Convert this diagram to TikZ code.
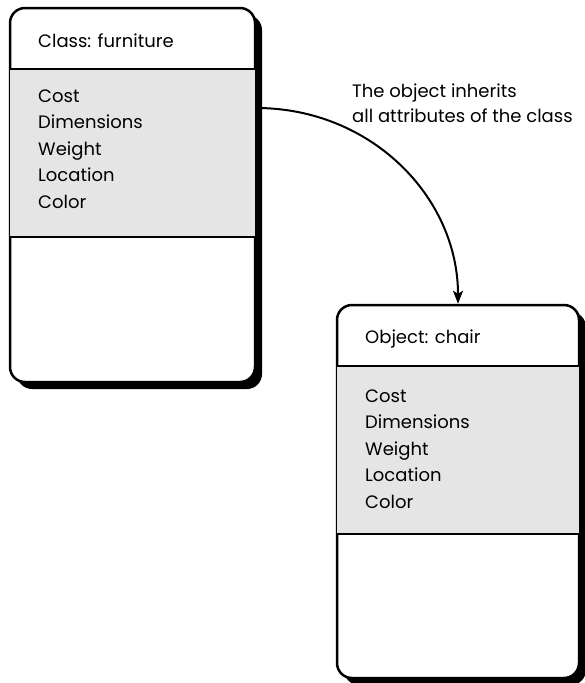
\documentclass[tikz,border=0pt]{standalone}
\usepackage{fontspec}
\setmainfont{Poppins}
\usetikzlibrary{shadows,arrows.meta,calc}
\begin{document}
\begin{tikzpicture}[x=1pt,y=-1pt,
  txt/.style={font=\fontsize{18}{21}\selectfont, anchor=base west, inner sep=0pt},
  umlbox/.style={draw, line width=2.5pt, rounded corners=15pt, fill=white, inner sep=0pt,
    drop shadow={shadow xshift=7pt, shadow yshift=-7pt, opacity=1, fill=black}},
  band/.style={fill=black!10},
  divider/.style={line width=2pt},
  link/.style={line width=2pt, -{Stealth[length=13pt, width=10pt, inset=3pt]}}]
\useasboundingbox (0,0) rectangle (585,683);
% class box
\node[umlbox, minimum width=245pt, minimum height=374pt] (cls) at (132.5,195) {};
\fill[band] ($(cls.west |- 0,69)+(1.2,0)$) rectangle ($(cls.east |- 0,237)+(-1.2,0)$);
\draw[divider] (cls.west |- 0,69) -- (cls.east |- 0,69);
\draw[divider] (cls.west |- 0,237) -- (cls.east |- 0,237);
\node[txt] (clst) at (38,47) {Class: furniture};
\foreach \t [count=\i] in {Cost,Dimensions,Weight,Location,Color}
  \node[txt] (clsa\i) at (38,{102+26.5*(\i-1)}) {\t};
% object box
\node[umlbox, minimum width=242pt, minimum height=373pt] (obj) at (458,491.5) {};
\fill[band] ($(obj.west |- 0,366)+(1.2,0)$) rectangle ($(obj.east |- 0,534)+(-1.2,0)$);
\draw[divider] (obj.west |- 0,366) -- (obj.east |- 0,366);
\draw[divider] (obj.west |- 0,534) -- (obj.east |- 0,534);
\node[txt] (objt) at (365,343) {Object: chair};
\foreach \t [count=\i] in {Cost,Dimensions,Weight,Location,Color}
  \node[txt] (obja\i) at (365,{402+26.5*(\i-1)}) {\t};
% inheritance arrow
\coordinate (start) at (cls.east |- 0,108);
\draw[link] (start) .. controls (371,108) and (458,197) .. (obj.north);
\node[txt] (lab1) at (352,97) {The object inherits};
\node[txt] (lab2) at (352,122) {all attributes of the class};
\end{tikzpicture}
\end{document}
